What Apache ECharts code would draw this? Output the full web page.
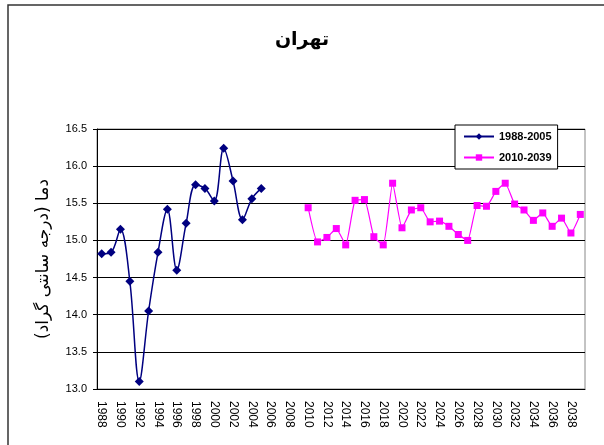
<!DOCTYPE html>
<html lang="fa">

<head>
    <meta charset="UTF-8">
    <title>تهران</title>
    <script src="https://cdn.jsdelivr.net/npm/echarts@6/dist/echarts.min.js"></script>
    <style>
        html, body { margin: 0; padding: 0; background: #fff; }
    </style>
</head>

<body>
    <div id="chart" style="width:604px; height:445px"></div>
    <script>
        // سال‌ها 1988 تا 2039
        var years = []
        for (var y = 1988; y <= 2039; y++) {
            years.push(String(y))
        }
        // دمای مشاهده‌ای 1988-2005
        var obsYears = ['1988', '1989', '1990', '1991', '1992', '1993', '1994', '1995', '1996',
            '1997', '1998', '1999', '2000', '2001', '2002', '2003', '2004', '2005']
        var obsTemp = [14.82, 14.84, 15.15, 14.45, 13.10, 14.05, 14.84, 15.42, 14.60,
            15.23, 15.75, 15.70, 15.53, 16.24, 15.80, 15.28, 15.56, 15.70]
        // دمای پیش‌بینی 2010-2039
        var projStart = 2010
        var projTemp = [15.44, 14.98, 15.04, 15.16, 14.94, 15.54, 15.55, 15.05, 14.94, 15.77,
            15.17, 15.41, 15.44, 15.25, 15.26, 15.19, 15.08, 15.00, 15.47, 15.46,
            15.66, 15.77, 15.49, 15.41, 15.27, 15.37, 15.19, 15.30, 15.10, 15.35]
        var yTicks = [13.0, 13.5, 14.0, 14.5, 15.0, 15.5, 16.0, 16.5]

        // پر کردن با null برای سال‌های بدون داده
        var obsData = years.map(function(yr) {
            var i = obsYears.indexOf(yr)
            return i >= 0 ? obsTemp[i] : null
        })
        var projData = years.map(function(yr) {
            var i = Number(yr) - projStart
            return (i >= 0 && i < projTemp.length) ? projTemp[i] : null
        })

        var myChart = echarts.init(document.getElementById('chart'))
        var option = {
            animation: false,
            backgroundColor: '#fff',
            title: {
                text: 'تهران',
                left: 'center',
                top: 26,
                textStyle: {
                    fontFamily: 'DejaVu Sans',
                    fontWeight: 'bold',
                    fontSize: 19,
                    color: '#000'
                }
            },
            graphic: [{
                type: 'rect',
                shape: { x: 8, y: 5, width: 700, height: 500 },
                style: { fill: 'none', stroke: '#333', lineWidth: 1.5 },
                silent: true
            }],
            legend: {
                orient: 'vertical',
                left: 455,
                top: 125,
                padding: [6, 6, 6, 8],
                itemGap: 10,
                itemWidth: 30,
                itemHeight: 8,
                backgroundColor: '#fff',
                borderColor: '#000',
                borderWidth: 1,
                textStyle: {
                    fontFamily: 'Liberation Sans',
                    fontWeight: 'bold',
                    fontSize: 11,
                    color: '#000'
                },
                data: ['1988-2005', '2010-2039']
            },
            grid: {
                left: 97,
                right: 19,
                top: 129,
                bottom: 56,
                show: true,
                borderColor: '#888',
                borderWidth: 1
            },
            xAxis: {
                type: 'category',
                data: years,
                boundaryGap: true,
                axisLine: { lineStyle: { color: '#000', width: 1 } },
                axisTick: { interval: 0, inside: true, length: 4, lineStyle: { color: '#000' } },
                axisLabel: {
                    interval: 1,
                    rotate: -90,
                    fontFamily: 'Liberation Sans',
                    fontSize: 12,
                    color: '#000',
                    margin: 12
                },
                splitLine: { show: false }
            },
            yAxis: {
                type: 'value',
                min: 13,
                max: 16.5,
                interval: 0.5,
                name: 'دما (درجه سانتی گراد)',
                nameLocation: 'middle',
                nameRotate: 90,
                nameGap: 45,
                nameTextStyle: {
                    fontFamily: 'DejaVu Sans',
                    fontSize: 17,
                    color: '#000'
                },
                axisLine: { show: true, lineStyle: { color: '#000', width: 1 } },
                axisTick: { show: true, length: 4, lineStyle: { color: '#000' } },
                axisLabel: {
                    fontFamily: 'Liberation Sans',
                    fontSize: 11,
                    color: '#000',
                    margin: 10,
                    formatter: function(v) {
                        return yTicks.indexOf(v) >= 0 ? v.toFixed(1) : ''
                    }
                },
                splitLine: { show: true, lineStyle: { color: '#000', width: 1 } }
            },
            series: [{
                name: '1988-2005',
                type: 'line',
                data: obsData,
                smooth: 0.35,
                showAllSymbol: true,
                symbol: 'diamond',
                symbolSize: 9,
                lineStyle: { color: '#000080', width: 1.5 },
                itemStyle: { color: '#000080' }
            }, {
                name: '2010-2039',
                type: 'line',
                data: projData,
                smooth: 0.15,
                showAllSymbol: true,
                symbol: 'rect',
                symbolSize: 7,
                lineStyle: { color: '#ff00ff', width: 1.2 },
                itemStyle: { color: '#ff00ff' }
            }]
        }
        myChart.setOption(option)
    </script>
</body>

</html>
